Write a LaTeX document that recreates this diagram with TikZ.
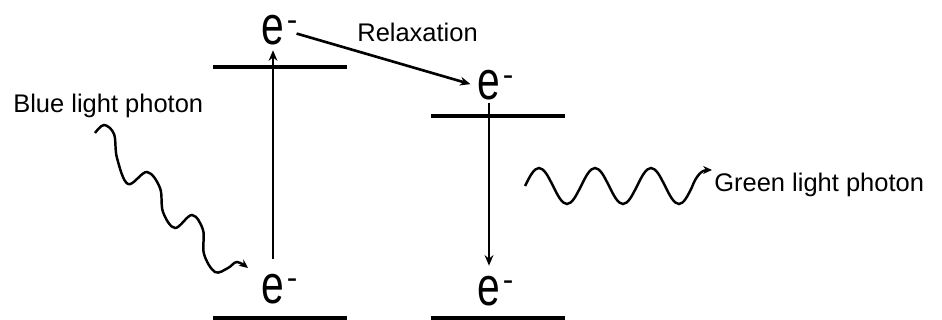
\documentclass[tikz,border=0pt]{standalone}
\usepackage{fontspec}
\setmainfont{Liberation Sans}
\usepackage{graphicx}
\usepackage{tikz}
\usetikzlibrary{arrows.meta, calc}

\begin{document}
\begin{tikzpicture}[
    x=0.02cm, y=-0.02cm,
    level/.style={line width=2pt},
    arrow/.style={-{Stealth[length=6pt, width=5pt]}, line width=1.5pt},
    photon/.style={-{Stealth[length=5pt, width=4.5pt]}, line width=1.4pt},
    elec/.style={inner sep=1pt, font=\fontsize{31}{31}\selectfont, anchor=base},
    minus/.style={font=\fontsize{18}{18}\selectfont, inner sep=0pt, anchor=north west, yshift=-4pt},
    lbl/.style={font=\fontsize{14.5}{17}\selectfont, inner sep=0pt, anchor=base west}
  ]
    \useasboundingbox (0,0) rectangle (942,320);

    % Energy levels
    \draw[level] (213,67) -- (347,67);
    \draw[level] (213,318) -- (347,318);
    \draw[level] (431,116) -- (565,116);
    \draw[level] (431,318) -- (565,318);

    % Electrons
    \node[elec, label={[minus]north east:-}] (eTopL) at (273,45) {\scalebox{0.75}[1]{e}};
    \node[elec, label={[minus]north east:-}] (eLowL) at (273,303) {\scalebox{0.75}[1]{e}};
    \node[elec, label={[minus]north east:-}] (eUpR) at (489,100) {\scalebox{0.75}[1]{e}};
    \node[elec, label={[minus]north east:-}] (eLowR) at (489,305) {\scalebox{0.75}[1]{e}};

    % Transitions
    \draw[arrow, shorten <=7pt, shorten >=1.5pt] (eLowL.north) -- (eTopL.south);
    \draw[arrow, shorten <=6pt, shorten >=3pt] (eTopL.east) -- (eUpR.west);
    \draw[arrow, shorten >=4.5pt] (eUpR.south) -- (eLowR.north);

    % Labels
    \node[lbl] (relax) at (357,42) {Relaxation};
    \node[lbl] (blue) at (13,113) {Blue light photon};
    \node[lbl] (green) at (714,192) {Green light photon};

    % Photons
    \draw[photon] plot[smooth, tension=0.6] coordinates {(95,133) (104,125) (114,134) (117,158) (128,184) (147,172) (160,188) (163,212) (175,228) (192,215) (203,230) (204,254) (215,272) (228,268) (237,262) (248,268)};
    \coordinate (gEnd) at (712,170);
    \draw[photon] (525,186) sin (539,168) cos (553,186) sin (567,204) cos (581,186)
      sin (595,168) cos (609,186) sin (623,204) cos (637,186)
      sin (651,168) cos (665,186) sin (679,204) cos (692,187)
      .. controls (696,176) and (702,170) .. (gEnd);
  \end{tikzpicture}
\end{document}
